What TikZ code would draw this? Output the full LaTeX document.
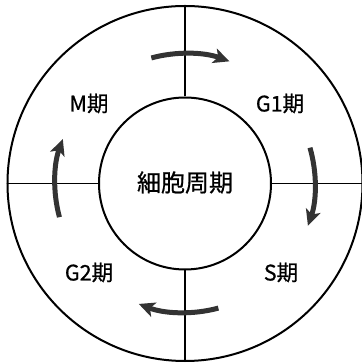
\documentclass[tikz,border=0pt]{standalone}
\usepackage{fontspec}
\setmainfont{Noto Sans CJK JP}
\newfontfamily\lblfont{Noto Sans CJK JP}[FakeBold=0.7]
\usetikzlibrary{arrows.meta}
\begin{document}
\begin{tikzpicture}[x=1pt,y=1pt,
  ring/.style={line width=2pt},
  divider/.style={line width=1.6pt},
  cyclearrow/.style={line width=5pt, draw=black!80,
    -{Stealth[length=16pt,width=15pt,inset=4pt]}},
  phase/.style={font=\lblfont\fontsize{21.5}{21.5}\selectfont, inner sep=0pt},
  centerlabel/.style={font=\lblfont\fontsize{24}{24}\selectfont, inner sep=0pt}]
\useasboundingbox (-185,-179.5) rectangle (176,183.5);
\coordinate (O) at (0,0);
\draw[ring] (O) circle (177.5);
\node[draw, circle, ring, minimum size=172pt, inner sep=0pt] (inner) at (O) {};
\coordinate (ot) at (90:177.5);
\coordinate (ob) at (-90:177.5);
\coordinate (ol) at (180:177.5);
\coordinate (or) at (0:177.5);
\draw[divider] (inner.north) -- (ot);
\draw[divider] (inner.south) -- (ob);
\draw[divider] (inner.west) -- (ol);
\draw[divider] (inner.east) -- (or);
\node[centerlabel] (cc) at (0,1) {細胞周期};
\node[phase] (m) at (-96,80) {M期};
\node[phase] (g1) at (95,80) {G1期};
\node[phase] (s) at (96,-89) {S期};
\node[phase] (g2) at (-96,-89) {G2期};
\draw[cyclearrow] (105:130) arc[start angle=105, end angle=70, radius=130];
\draw[cyclearrow] (16:130) arc[start angle=16, end angle=-19, radius=130];
\draw[cyclearrow] (-75:129) arc[start angle=-75, end angle=-111, radius=129];
\draw[cyclearrow] (195:130) arc[start angle=195, end angle=160, radius=130];
\end{tikzpicture}
\end{document}
